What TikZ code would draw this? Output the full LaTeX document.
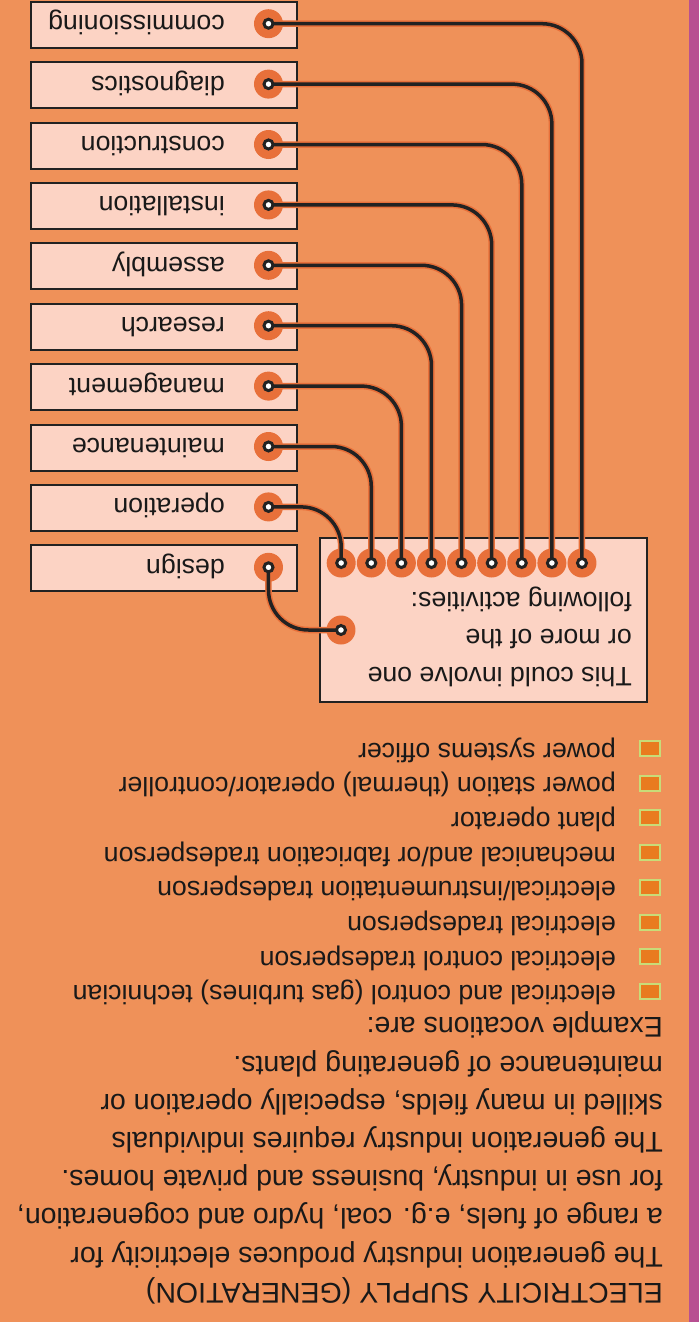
\documentclass[tikz,border=0pt]{standalone}
\usepackage{fontspec}
\setmainfont{Liberation Sans}
\usetikzlibrary{positioning}
\definecolor{sheet}{HTML}{EF9159}
\definecolor{strip}{HTML}{B84F91}
\definecolor{paper}{HTML}{FCD3C4}
\definecolor{ring}{HTML}{E8703A}
\definecolor{tickfill}{HTML}{E97B1F}
\definecolor{tickedge}{HTML}{C8DC78}
\definecolor{ink}{HTML}{222222}

\begin{document}
\begin{tikzpicture}[
    x=1pt, y=1pt,
    rotate=180, transform shape,
    every node/.style={inner sep=0pt, text=black!90, font=\fontsize{26.7}{32}\selectfont},
    intro/.style={anchor=base west, font=\fontsize{28.5}{34}\selectfont},
    card/.style={draw=ink, line width=2pt, fill=paper},
    pad/.style={circle, fill=ring, minimum size=29pt},
    hole/.style={circle, draw=ink, line width=3pt, fill=white, minimum size=9pt},
    wire/.style={draw=ink, line width=3.5pt, rounded corners=40pt, preaction={draw=ring, line width=6.5pt}},
    tickbox/.style={draw=tickedge, line width=2pt, fill=tickfill, minimum width=20pt, minimum height=15pt}
]
    \useasboundingbox (0,0) rectangle (699,1322);
    \fill[sheet] (0,0) rectangle (699,1322);
    \fill[strip] (0,0) rectangle (10,1322);

    \node[intro] (title) at (36,1283) {ELECTRICITY SUPPLY (GENERATION)};
    \foreach \line [count=\i from 0] in {
        {The generation industry produces electricity for},
        {a range of fuels, e.g. coal, hydro and cogeneration,},
        {for use in industry, business and private homes.},
        {The generation industry requires individuals},
        {skilled in many fields, especially operation or},
        {maintenance of generating plants.},
        {Example vocations are:}}
        \node[intro] (intro\i) at (36,{1247-38.2*\i}) {\line};

    \foreach \job [count=\i from 0] in {
        {electrical and control (gas turbines) technician},
        {electrical control tradesperson},
        {electrical tradesperson},
        {electrical/instrumentation tradesperson},
        {mechanical and/or fabrication tradesperson},
        {plant operator},
        {power station (thermal) operator/controller},
        {power systems officer}} {
        \node[tickbox] (tick\i) at (49,{991.4-34.7*\i}) {};
        \node[anchor=base west] (job\i) at (83,{985.9-34.7*\i}) {\job};
    }

    \node[card, minimum width=327pt, minimum height=164pt, anchor=south west] (panel) at (51,537) {};
    \node[anchor=base west] (ask1) at (67,667) {This could involve one};
    \node[anchor=base west] (ask2) at (67,629.5) {or more of the};
    \node[anchor=base west] (ask3) at (67,592) {following activities:};

    \foreach \task [count=\k from 0] in {commissioning, diagnostics, construction, installation,
        assembly, research, management, maintenance, operation, design} {
        \node[card, minimum width=266pt, minimum height=46pt, anchor=south west] (card\k) at (401,{60.4*\k+0.7}) {};
        \node[anchor=base west] (task\k) at (474,{60.4*\k+15.7}) {\task};
        \node[pad] (cpad\k) at (430.5,{60.4*\k+23.7}) {};
    }
    \foreach \k in {0,...,8}
        \node[pad] (tpad\k) at ({117+30.1*\k},563) {};
    \node[pad] (tpad9) at (358,630) {};

    \foreach \k in {0,...,8}
        \draw[wire] (cpad\k.center) -| (tpad\k.center);
    \draw[wire] (cpad9.center) |- (tpad9.center);

    \foreach \k in {0,...,9} {
        \node[hole] (chole\k) at (cpad\k) {};
        \node[hole] (thole\k) at (tpad\k) {};
    }
\end{tikzpicture}
\end{document}
